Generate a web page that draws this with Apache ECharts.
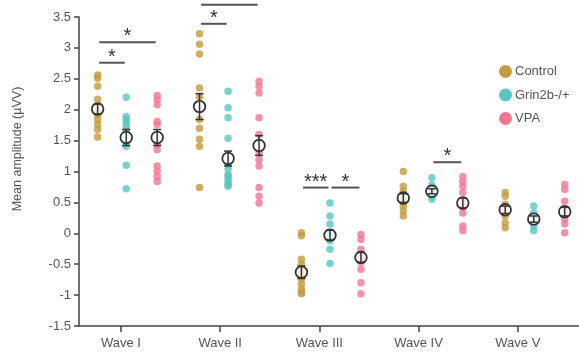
<!DOCTYPE html>
<html>
<head>
<meta charset="utf-8">
<script src="https://cdn.jsdelivr.net/npm/echarts@6.0.0/dist/echarts.min.js"></script>
<style>
html,body{margin:0;padding:0;background:#fff;}
#chart{width:579px;height:358px;}
</style>
</head>
<body>
<div id="chart"></div>
<script>
const waves = ['Wave I', 'Wave II', 'Wave III', 'Wave IV', 'Wave V'];
const groupNames = ['Control', 'Grin2b-/+', 'VPA'];
const yTicks = [-1.5, -1, -0.5, 0, 0.5, 1, 1.5, 2, 2.5, 3, 3.5];

// individual points, one list per wave
const controlValues = [
  [2.56, 2.51, 2.38, 2.17, 2.08, 1.96, 1.92, 1.84, 1.76, 1.68, 1.56],
  [3.23, 3.06, 2.90, 2.35, 2.21, 1.84, 1.70, 1.52, 1.41, 0.74],
  [0.01, -0.04, -0.42, -0.50, -0.60, -0.65, -0.70, -0.74, -0.82, -0.90, -0.95, -0.98],
  [1.00, 0.76, 0.68, 0.56, 0.50, 0.44, 0.36, 0.28],
  [0.66, 0.60, 0.47, 0.38, 0.28, 0.17, 0.09]
];
const grinValues = [
  [2.20, 1.89, 1.84, 1.79, 1.73, 1.65, 1.45, 1.41, 1.10, 0.72],
  [2.30, 2.03, 1.87, 1.54, 1.11, 1.05, 0.95, 0.92, 0.87, 0.82, 0.78, 0.76],
  [0.49, 0.28, 0.15, 0.00, -0.05, -0.12, -0.26, -0.49],
  [0.90, 0.78, 0.70, 0.65, 0.60, 0.55],
  [0.44, 0.33, 0.25, 0.12, 0.04]
];
const vpaValues = [
  [2.23, 2.16, 2.08, 1.81, 1.76, 1.44, 1.35, 1.09, 1.01, 0.92, 0.84],
  [2.46, 2.38, 2.27, 1.87, 1.60, 1.30, 1.19, 1.09, 0.74, 0.60, 0.49],
  [-0.02, -0.10, -0.26, -0.34, -0.40, -0.47, -0.58, -0.80, -0.98],
  [0.92, 0.84, 0.76, 0.66, 0.50, 0.42, 0.33, 0.12, 0.04],
  [0.79, 0.71, 0.52, 0.35, 0.23, 0.15, 0.01]
];

// group means and SEM
const controlMean = [2.01, 2.05, -0.63, 0.57, 0.38];
const controlSem  = [0.08, 0.21, 0.10, 0.07, 0.06];
const grinMean    = [1.55, 1.21, -0.03, 0.68, 0.23];
const grinSem     = [0.13, 0.12, 0.08, 0.04, 0.05];
const vpaMean     = [1.55, 1.42, -0.39, 0.49, 0.35];
const vpaSem      = [0.13, 0.16, 0.08, 0.08, 0.07];

// significance bars: [wave, groupA, groupB, level, label]
const sigBars = [
  [0, 0, 1, 2.76, '*'],
  [0, 0, 2, 3.09, '*'],
  [1, 0, 1, 3.39, '*'],
  [1, 0, 2, 3.70, ''],
  [2, 0, 1, 0.74, '***'],
  [2, 1, 2, 0.74, '*'],
  [3, 1, 2, 1.15, '*']
];

// layout constants
const colors = ['#C49B3D', '#57C7C1', '#F27693'];
const waveStretch = 1.027;
const groupOffset = [-0.235, 0.053, 0.365];
function gx(w, g) { return w * waveStretch + groupOffset[g]; }

const allValues = [controlValues, grinValues, vpaValues];
const allMeans = [controlMean, grinMean, vpaMean];
const allSems = [controlSem, grinSem, vpaSem];
const fontFamily = 'Liberation Sans, Arial, sans-serif';

const series = [];
groupNames.forEach(function (name, g) {
  const data = [];
  allValues[g].forEach(function (vals, w) {
    vals.forEach(function (v) { data.push([gx(w, g), v]); });
  });
  series.push({
    name: name,
    type: 'scatter',
    symbol: 'circle',
    symbolSize: 7.5,
    itemStyle: { color: colors[g], opacity: 0.8 },
    emphasis: { disabled: true },
    data: data,
    z: 2
  });
});

function meanRender(params, api) {
  const x = api.value(0), m = api.value(1), s = api.value(2);
  const c = api.coord([x, m]);
  const t = api.coord([x, m + s]);
  const b = api.coord([x, m - s]);
  const hw = 4;
  const st = { stroke: '#333', lineWidth: 1.5 };
  return {
    type: 'group',
    children: [
      { type: 'circle', shape: { cx: c[0], cy: c[1], r: 5.8 },
        style: { fill: 'rgba(255,255,255,0.8)', stroke: '#333', lineWidth: 1.8 } },
      { type: 'line', shape: { x1: c[0], y1: t[1], x2: c[0], y2: b[1] }, style: st },
      { type: 'line', shape: { x1: c[0] - hw, y1: t[1], x2: c[0] + hw, y2: t[1] }, style: st },
      { type: 'line', shape: { x1: c[0] - hw, y1: b[1], x2: c[0] + hw, y2: b[1] }, style: st }
    ]
  };
}

groupNames.forEach(function (name, g) {
  const data = allMeans[g].map(function (m, w) { return [gx(w, g), m, allSems[g][w]]; });
  series.push({
    name: name + ' mean',
    type: 'custom',
    renderItem: meanRender,
    encode: { x: 0, y: 1 },
    data: data,
    z: 5,
    silent: true
  });
});

series.push({
  name: 'sig',
  type: 'custom',
  clip: false,
  silent: true,
  z: 6,
  encode: { x: 0, y: 2 },
  data: sigBars.map(function (s) { return [gx(s[0], s[1]), gx(s[0], s[2]), s[3], s[4]]; }),
  renderItem: function (params, api) {
    const p1 = api.coord([api.value(0), api.value(2)]);
    const p2 = api.coord([api.value(1), api.value(2)]);
    const label = sigBars[params.dataIndex][4];
    const inset = 1.5;
    return {
      type: 'group',
      children: [
        { type: 'line', shape: { x1: p1[0] + inset, y1: p1[1], x2: p2[0] - inset, y2: p2[1] },
          style: { stroke: '#555', lineWidth: 2 } },
        { type: 'text', x: (p1[0] + p2[0]) / 2, y: p1[1] - 5.5,
          style: { text: label, fill: '#333', font: '20px ' + fontFamily,
            textAlign: 'center', textVerticalAlign: 'middle' } }
      ]
    };
  }
});

const chart = echarts.init(document.getElementById('chart'), null, { renderer: 'canvas' });
chart.setOption({
  animation: false,
  backgroundColor: '#fff',
  grid: { left: 79, right: 0, top: 17, bottom: 32, containLabel: false },
  legend: {
    data: groupNames,
    orient: 'vertical',
    left: 494,
    top: 60,
    icon: 'circle',
    itemWidth: 13,
    itemHeight: 13,
    itemGap: 10.5,
    selectedMode: false,
    textStyle: { fontSize: 13, color: '#555', fontFamily: fontFamily, padding: [0, 0, 0, -2] },
    itemStyle: { opacity: 1 }
  },
  xAxis: {
    type: 'value',
    min: -0.423,
    max: 4.617,
    splitLine: { show: false },
    axisLine: { show: true, onZero: false, lineStyle: { color: '#444', width: 1.5 } },
    axisTick: { show: true, customValues: [0, 1, 2, 3, 4], length: 6, lineStyle: { color: '#444', width: 1.5 } },
    axisLabel: {
      customValues: [0, 1, 2, 3, 4],
      formatter: function (v) { return waves[Math.round(v)]; },
      fontSize: 13, color: '#555', fontFamily: fontFamily, margin: 11
    }
  },
  yAxis: {
    type: 'value',
    min: -1.5,
    max: 3.5,
    interval: 0.5,
    splitLine: { show: false },
    axisLine: { show: true, onZero: false, lineStyle: { color: '#444', width: 1.5 } },
    axisTick: { show: true, length: 5, lineStyle: { color: '#444', width: 1.5 } },
    axisLabel: {
      fontSize: 13, color: '#555', fontFamily: fontFamily, margin: 8,
      formatter: function (v) { return String(v); }
    }
  },
  graphic: [{
    type: 'text',
    x: 18,
    y: 149,
    rotation: Math.PI / 2,
    style: {
      text: 'Mean amplitude (µVV)',
      font: '12.5px ' + fontFamily,
      fill: '#555',
      textAlign: 'center',
      textVerticalAlign: 'middle'
    }
  }],
  series: series
});
</script>
</body>
</html>
